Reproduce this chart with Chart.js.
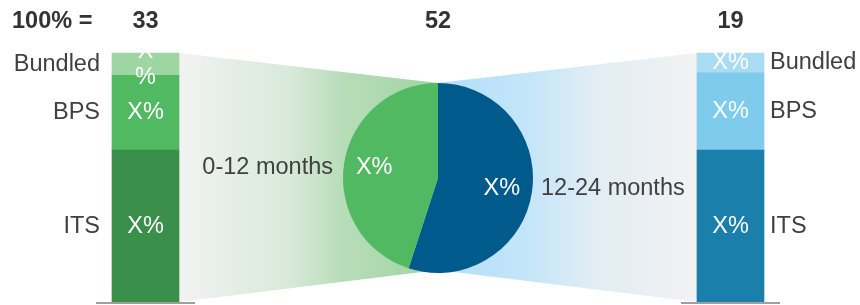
<!DOCTYPE html>
<html>
<head>
<meta charset="utf-8">
<script src="https://cdn.jsdelivr.net/npm/chart.js@4"></script>
<style>
  body { margin: 0; background: #ffffff; }
  #wrap { position: relative; width: 860px; height: 305px; }
  #wrap canvas { position: absolute; left: 0; top: 0; }
</style>
</head>
<body>
<div id="wrap">
  <canvas id="barChart" width="860" height="305"></canvas>
  <canvas id="pieChart" width="860" height="305"></canvas>
</div>
<script>
// totals shown above each column
const totals = ['33', '52', '19'];
const titleText = '100% =';

// stacked bars (share of each bar, bottom to top), middle slot is empty
const segmentNames = ['ITS', 'BPS', 'Bundled'];
const itsValues = [61, null, 61];
const bpsValues = [30, null, 31];
const bundledValues = [9, null, 8];
const itsText = ['X%', '', 'X%'];
const bpsText = ['X%', '', 'X%'];
const bundledText = ['X\n%', '', 'X%'];

// pie in the middle
const pieLabels = ['12-24 months', '0-12 months'];
const pieValues = [55, 45];
const pieText = ['X%', 'X%'];

const FONT = '"Liberation Sans", Arial, sans-serif';
const textColor = '#404040';

// пирог рисуем первым, чтобы знать его геометрию для соединителей
const pieLabelsPlugin = {
    id: 'pieLabels',
    afterDatasetsDraw(chart) {
        const ctx = chart.ctx;
        const meta = chart.getDatasetMeta(0);
        ctx.save();
        ctx.font = '23.5px ' + FONT;
        ctx.textBaseline = 'middle';
        meta.data.forEach((arc, i) => {
            const mid = (arc.startAngle + arc.endAngle) / 2;
            const r = arc.outerRadius;
            const x = arc.x + Math.cos(mid) * r * 0.68;
            const y = arc.y + Math.sin(mid) * r * 0.68;
            ctx.fillStyle = '#ffffff';
            ctx.textAlign = 'center';
            ctx.fillText(pieText[i], x, y);
            ctx.fillStyle = textColor;
            if (Math.cos(mid) >= 0) {
                ctx.textAlign = 'left';
                ctx.fillText(pieLabels[i], arc.x + r + 8, y);
            } else {
                ctx.textAlign = 'right';
                ctx.fillText(pieLabels[i], arc.x - r - 10, y);
            }
        });
        ctx.restore();
    }
};

const pieChart = new Chart(document.getElementById('pieChart').getContext('2d'), {
    type: 'pie',
    data: {
        labels: pieLabels,
        datasets: [{
            data: pieValues,
            backgroundColor: ['#005a8c', '#52b963'],
            borderWidth: 0
        }]
    },
    options: {
        responsive: false,
        animation: false,
        layout: { padding: { left: 343, right: 327, top: 83, bottom: 32 } },
        plugins: { legend: { display: false }, tooltip: { enabled: false } }
    },
    plugins: [pieLabelsPlugin]
});

const barDecor = {
    id: 'barDecor',
    beforeDatasetsDraw(chart) {
        const ctx = chart.ctx;
        const arc = pieChart.getDatasetMeta(0).data[0];
        const cx = arc.x, cy = arc.y, r = arc.outerRadius;
        const bottomMeta = chart.getDatasetMeta(0);
        const topMeta = chart.getDatasetMeta(2);
        ctx.save();
        [0, 2].forEach(idx => {
            const lowEl = bottomMeta.data[idx];
            const highEl = topMeta.data[idx];
            const half = lowEl.width / 2;
            const edge = idx === 0 ? lowEl.x + half : lowEl.x - half;
            const grad = ctx.createLinearGradient(edge, 0, cx, 0);
            if (idx === 0) {
                grad.addColorStop(0, '#f2f2f2');
                grad.addColorStop(0.43, '#d8e9d9');
                grad.addColorStop(0.63, '#b8ddb9');
                grad.addColorStop(1, '#9fd3a2');
            } else {
                grad.addColorStop(0, '#f2f2f2');
                grad.addColorStop(0.375, '#e3edf3');
                grad.addColorStop(0.64, '#c5e6f9');
                grad.addColorStop(1, '#b0defa');
            }
            ctx.fillStyle = grad;
            ctx.beginPath();
            ctx.moveTo(edge, highEl.y);
            ctx.lineTo(cx, cy - r);
            ctx.lineTo(cx, cy + r - 3);
            ctx.lineTo(edge, lowEl.base);
            ctx.closePath();
            ctx.fill();
        });
        ctx.restore();
    },
    afterDatasetsDraw(chart) {
        const ctx = chart.ctx;
        const area = chart.chartArea;
        const xScale = chart.scales.x;
        const texts = [itsText, bpsText, bundledText];
        ctx.save();
        // заголовки
        ctx.fillStyle = '#333333';
        ctx.font = 'bold 23.5px ' + FONT;
        ctx.textBaseline = 'alphabetic';
        ctx.textAlign = 'left';
        ctx.fillText(titleText, 12, area.top - 25);
        ctx.textAlign = 'center';
        totals.forEach((t, i) => {
            ctx.fillText(t, xScale.getPixelForValue(i), area.top - 25);
        });
        // подписи сегментов
        ctx.font = '23.5px ' + FONT;
        ctx.textBaseline = 'middle';
        [0, 2].forEach(idx => {
            let half = 0, cxBar = 0, base = 0;
            segmentNames.forEach((name, d) => {
                const el = chart.getDatasetMeta(d).data[idx];
                half = el.width / 2;
                cxBar = el.x;
                base = Math.max(base, el.base);
                const yc = (el.y + el.base) / 2;
                const lines = texts[d][idx].split('\n');
                ctx.fillStyle = '#ffffff';
                ctx.textAlign = 'center';
                lines.forEach((ln, k) => {
                    ctx.fillText(ln, el.x, yc + (k - (lines.length - 1) / 2) * 26);
                });
                ctx.fillStyle = textColor;
                if (idx === 0) {
                    ctx.textAlign = 'right';
                    ctx.fillText(name, el.x - half - 12, yc);
                } else {
                    ctx.textAlign = 'left';
                    ctx.fillText(name, el.x + half + 6, yc);
                }
            });
            ctx.strokeStyle = '#a0a0a0';
            ctx.lineWidth = 2;
            ctx.beginPath();
            ctx.moveTo(cxBar - half - 16, base + 1);
            ctx.lineTo(cxBar + half + 16, base + 1);
            ctx.stroke();
        });
        ctx.restore();
    }
};

new Chart(document.getElementById('barChart').getContext('2d'), {
    type: 'bar',
    data: {
        labels: totals,
        datasets: [
            { label: segmentNames[0], data: itsValues, backgroundColor: ['#3a904b', null, '#1a7fab'] },
            { label: segmentNames[1], data: bpsValues, backgroundColor: ['#52b963', null, '#7fcbeb'] },
            { label: segmentNames[2], data: bundledValues, backgroundColor: ['#9dd6a3', null, '#a9dbf3'] }
        ]
    },
    options: {
        responsive: false,
        animation: false,
        layout: { padding: { left: 145.5, right: 129.5, top: 53, bottom: 3 } },
        datasets: { bar: { barThickness: 67, borderWidth: 0, clip: false } },
        scales: {
            x: { stacked: true, offset: false, display: false },
            y: { stacked: true, min: 0, max: 100, display: false }
        },
        plugins: { legend: { display: false }, tooltip: { enabled: false } }
    },
    plugins: [barDecor]
});
</script>
</body>
</html>
